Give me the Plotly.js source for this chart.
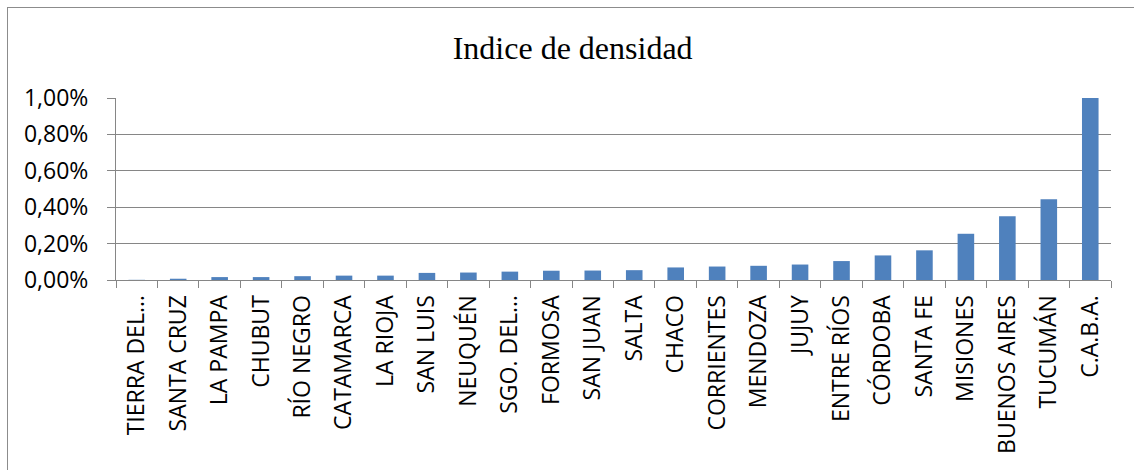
<!DOCTYPE html>
<html>
<head>
<meta charset="utf-8">
<script src="https://cdn.plot.ly/plotly-3.0.1.min.js"></script>
<style>
  html, body { margin: 0; padding: 0; width: 1134px; height: 470px; overflow: hidden; background: #fff; }
  #chart { position: absolute; left: 0; top: 0; width: 1134px; height: 470px; }
  #frame { position: absolute; left: 7px; top: 7px; width: 1140px; height: 480px;
           border-left: 1px solid #8c8c8c; border-top: 1px solid #8c8c8c; pointer-events: none; }
</style>
</head>
<body>
<div id="chart"></div>
<div id="frame"></div>
<script>
const provincias = ["TIERRA DEL…", "SANTA CRUZ", "LA PAMPA", "CHUBUT", "RÍO NEGRO", "CATAMARCA",
  "LA RIOJA", "SAN LUIS", "NEUQUÉN", "SGO. DEL…", "FORMOSA", "SAN JUAN", "SALTA", "CHACO",
  "CORRIENTES", "MENDOZA", "JUJUY", "ENTRE RÍOS", "CÓRDOBA", "SANTA FE", "MISIONES",
  "BUENOS AIRES", "TUCUMÁN", "C.A.B.A."];
const indiceDensidad = [0.00001, 0.00007, 0.00016, 0.00016, 0.00021, 0.00024,
  0.00024, 0.00039, 0.00041, 0.00046, 0.00051, 0.00052, 0.00054, 0.00069,
  0.00074, 0.00078, 0.00085, 0.00104, 0.00135, 0.00163, 0.00254,
  0.00350, 0.00444, 0.01200];
const yTickValues = [0, 0.002, 0.004, 0.006, 0.008, 0.010];

const grey = "#868686";
const trace = {
  type: "bar",
  x: provincias,
  y: indiceDensidad,
  marker: { color: "#4F81BD", line: { width: 0 } },
  hoverinfo: "x+y"
};

const layout = {
  width: 1134, height: 470,
  margin: { l: 116, r: 23, t: 98, b: 190, pad: 0 },
  paper_bgcolor: "#ffffff", plot_bgcolor: "#ffffff",
  separators: ",.",
  showlegend: false,
  bargap: 0.6,
  title: {
    text: "Indice de densidad",
    font: { family: "Liberation Serif, Times New Roman, serif", size: 32, color: "#000" },
    xref: "container", x: 0.505, xanchor: "center",
    yref: "container", y: 0.898, yanchor: "middle"
  },
  xaxis: {
    type: "category",
    tickangle: -90,
    showline: true, linecolor: grey, linewidth: 1,
    ticks: "outside", tickson: "boundaries", ticklen: 7, tickcolor: grey, tickwidth: 1,
    showgrid: false, zeroline: false,
    ticklabelstandoff: 5,
    tickfont: { family: "Open Sans, sans-serif", size: 23, color: "#000" }
  },
  yaxis: {
    range: [0, 0.01],
    tickvals: yTickValues,
    tickformat: ".2%",
    showline: true, linecolor: grey, linewidth: 1,
    ticks: "outside", ticklen: 8, tickcolor: grey, tickwidth: 1,
    showgrid: true, gridcolor: grey, gridwidth: 1,
    zeroline: false,
    ticklabelstandoff: 14,
    tickfont: { family: "Open Sans, sans-serif", size: 23, color: "#000" }
  }
};

Plotly.newPlot("chart", [trace], layout, { displayModeBar: false, staticPlot: true });
</script>
</body>
</html>
